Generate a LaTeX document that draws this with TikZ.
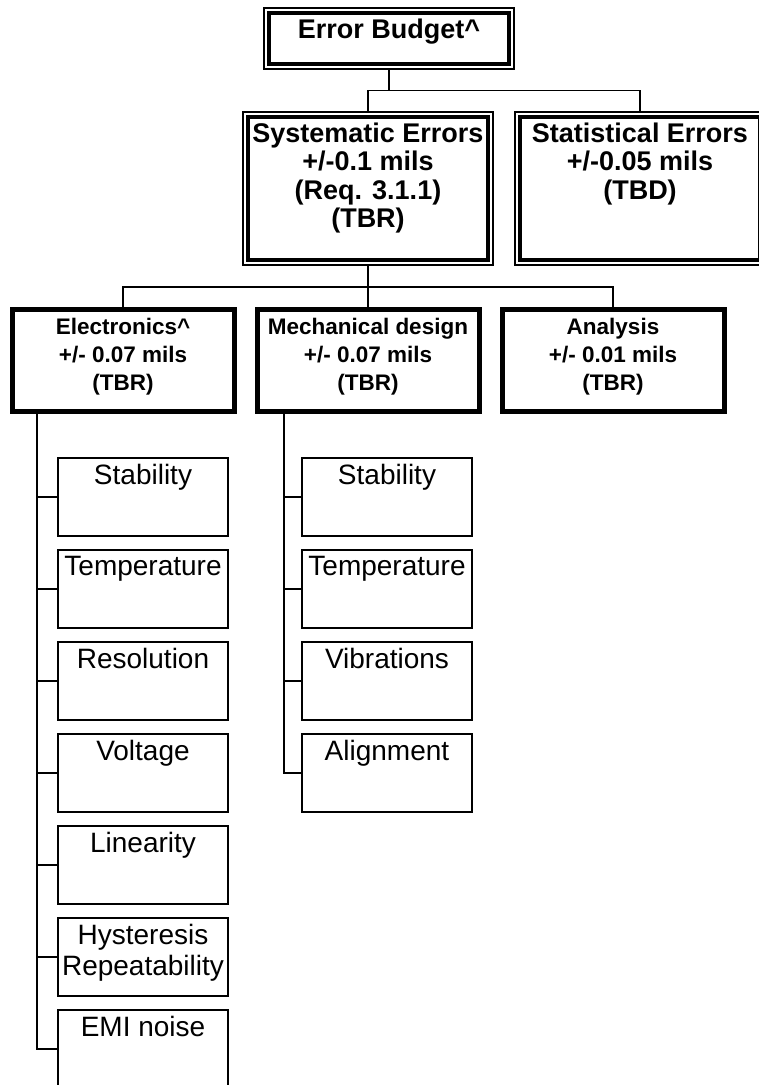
\documentclass[tikz,border=0pt]{standalone}
\usepackage{fontspec}
\setmainfont{Liberation Sans}
\usetikzlibrary{positioning,calc}
\tikzset{
  topbox/.style={rectangle,draw=black,line width=1.2pt,minimum width=250pt,
    inner sep=0pt,outer sep=0pt},
  innerframe/.style={draw=black,line width=4pt},
  groupbox/.style={rectangle,draw=black,line width=5pt,minimum width=222pt,
    minimum height=102pt,inner sep=0pt,outer sep=0pt},
  itembox/.style={rectangle,draw=black,line width=1.5pt,minimum width=170pt,
    minimum height=78pt,inner sep=0pt,outer sep=0pt},
  bigtext/.style={anchor=north,inner sep=10.5pt,align=center,
    font=\fontsize{27pt}{28.5pt}\selectfont\bfseries},
  midtext/.style={anchor=north,inner sep=9pt,align=center,
    font=\fontsize{22.5pt}{28pt}\selectfont\bfseries},
  itemtext/.style={anchor=north,inner sep=6pt,align=center,
    font=\fontsize{28pt}{31pt}\selectfont},
  link/.style={line width=1.6pt},
}

\begin{document}
\begin{tikzpicture}[node distance=14pt]
  \useasboundingbox (0,0) rectangle (759pt,-1085pt);

  %% ── Level 1: total budget ─────────────────────────────────────────────
  \node[topbox,minimum height=61pt,
    label={[bigtext]north:Error Budget\textasciicircum}] (budget) at (389pt,-38.5pt) {};

  %% ── Level 2: systematic / statistical ─────────────────────────────────
  \node[topbox,minimum height=153pt,below=43pt of budget,xshift=-21pt,
    label={[bigtext]north:{Systematic Errors\\+/-0.1 mils\\(Req. 3.1.1)\\(TBR)}}] (syst) {};
  \node[topbox,minimum height=153pt,right=22pt of syst,
    label={[bigtext]north:{Statistical Errors\\+/-0.05 mils\\(TBD)}}] (stat) {};

  \foreach \n in {budget,syst,stat}
    \draw[innerframe] ([shift={(5pt,-5pt)}]\n.north west) rectangle ([shift={(-5pt,5pt)}]\n.south east);

  %% ── Level 3: error sources ────────────────────────────────────────────
  \node[groupbox,below=44pt of syst,
    label={[midtext]north:{Mechanical design\\+/- 0.07 mils\\(TBR)}}] (mech) {};
  \node[groupbox,left=23pt of mech,
    label={[midtext]north:{Electronics\textasciicircum\\+/- 0.07 mils\\(TBR)}}] (elec) {};
  \node[groupbox,right=23pt of mech,
    label={[midtext]north:{Analysis\\+/- 0.01 mils\\(TBR)}}] (anal) {};

  %% ── Level 4: electronics items ────────────────────────────────────────
  \node[itembox,below right=47pt and 46pt of elec.south west,
    label={[itemtext]north:Stability}] (es1) {};
  \node[itembox,below=of es1,label={[itemtext]north:Temperature}] (es2) {};
  \node[itembox,below=of es2,label={[itemtext]north:Resolution}]  (es3) {};
  \node[itembox,below=of es3,label={[itemtext]north:Voltage}]     (es4) {};
  \node[itembox,below=of es4,label={[itemtext]north:Linearity}]   (es5) {};
  \node[itembox,below=of es5,
    label={[itemtext]north:{Hysteresis\\Repeatability}}]          (es6) {};
  \node[itembox,below=of es6,label={[itemtext]north:EMI noise}]   (es7) {};

  %% ── Level 4: mechanical items ─────────────────────────────────────────
  \node[itembox,below right=47pt and 45pt of mech.south west,
    label={[itemtext]north:Stability}] (ms1) {};
  \node[itembox,below=of ms1,label={[itemtext]north:Temperature}] (ms2) {};
  \node[itembox,below=of ms2,label={[itemtext]north:Vibrations}]  (ms3) {};
  \node[itembox,below=of ms3,label={[itemtext]north:Alignment}]   (ms4) {};

  %% ── Connectors ────────────────────────────────────────────────────────
  \coordinate (j1) at ($(budget.south)!0.5!(syst.north)$);
  \coordinate (j2) at ($(syst.south)!0.5!(mech.north)$);
  \coordinate (etrunk) at ([xshift=25pt]elec.south west);
  \coordinate (mtrunk) at ([xshift=27pt]mech.south west);

  \draw[link] (budget.south) -- (budget.south |- j1);
  \draw[link] (syst.north) |- (j1) -| (stat.north);
  \draw[link] (syst.south) -- (mech.north);
  \draw[link] (elec.north) |- (j2) -| (anal.north);

  \draw[link] (etrunk) |- (es7.west);
  \foreach \i in {1,...,6}
    \draw[link] (es\i.west) -- (es\i.west -| etrunk);
  \draw[link] (mtrunk) |- (ms4.west);
  \foreach \i in {1,...,3}
    \draw[link] (ms\i.west) -- (ms\i.west -| mtrunk);

\end{tikzpicture}
\end{document}
